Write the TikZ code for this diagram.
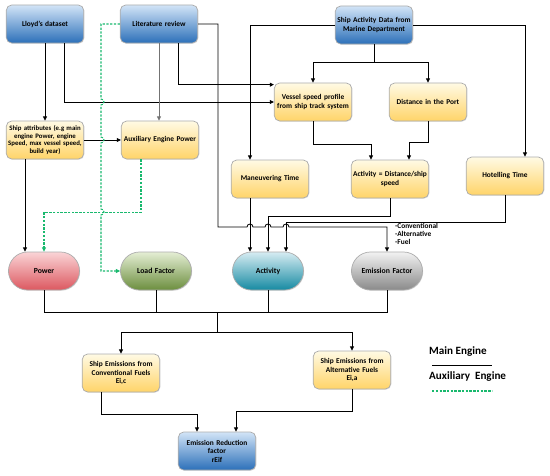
\documentclass[tikz,border=0pt]{standalone}
\usepackage{fontspec}
\setmainfont{Carlito}
\usetikzlibrary{arrows.meta,calc,shadows}
\definecolor{blueT}{RGB}{210,228,247}
\definecolor{blueB}{RGB}{44,112,185}
\definecolor{yelT}{RGB}{255,250,228}
\definecolor{yelB}{RGB}{255,212,105}
\definecolor{redT}{RGB}{250,212,214}
\definecolor{redB}{RGB}{220,88,96}
\definecolor{grnT}{RGB}{228,238,212}
\definecolor{grnB}{RGB}{108,142,62}
\definecolor{tealT}{RGB}{214,236,242}
\definecolor{tealB}{RGB}{22,138,162}
\definecolor{grayT}{RGB}{242,242,242}
\definecolor{grayB}{RGB}{138,138,138}
\definecolor{auxgreen}{RGB}{25,185,110}
\begin{document}
\begin{tikzpicture}[x=0.03cm,y=-0.03cm,
  box/.style={draw=gray!65,line width=0.6pt,rounded corners=0.16cm,minimum width=2.31cm,
    minimum height=1.14cm,inner sep=1pt,text width=2.25cm,align=center,
    font=\fontsize{6.3}{7.3}\selectfont\bfseries,
    drop shadow={opacity=0.25,shadow xshift=0.6pt,shadow yshift=-0.6pt}},
  bluebox/.style={box,top color=blueT,bottom color=blueB},
  yelbox/.style={box,top color=yelT,bottom color=yelB},
  pill/.style={box,rounded corners=0.57cm,minimum width=2.13cm,text width=1.9cm,
    font=\fontsize{6.6}{7.6}\selectfont\bfseries},
  arr/.style={line width=0.7pt,-{Triangle[length=3.6pt,width=3.4pt]}},
  ln/.style={line width=0.7pt},
  aux/.style={auxgreen,line width=0.9pt,dash pattern=on 2pt off 1.2pt}]
\useasboundingbox (0,0) rectangle (550,476);
\def\yh{227}
\def\xg{101}

\node[bluebox] (lloyd) at (45,24) {Lloyd's dataset};
\node[bluebox] (litrev) at (159,24) {Literature review};
\node[bluebox] (shipact) at (374,25) {Ship Activity Data from\\Marine Department};
\node[yelbox,font=\fontsize{5.8}{6.7}\selectfont\bfseries] (attrib) at (45,140)
  {Ship attributes (e.g main\\engine Power, engine\\Speed, max vessel speed,\\build year)};
\node[yelbox] (auxpow) at (160,140) {Auxiliary Engine Power};
\node[yelbox] (vspeed) at (313,102) {Vessel speed profile\\from ship track system};
\node[yelbox] (dist) at (428,102) {Distance in the Port};
\node[yelbox] (manoeuv) at (270,179) {Maneuvering Time};
\node[yelbox] (actcalc) at (390,179) {Activity = Distance/ship\\speed};
\node[yelbox] (hotel) at (505,176) {Hotelling Time};
\node[pill,top color=redT,bottom color=redB] (power) at (44,271) {Power};
\node[pill,top color=grnT,bottom color=grnB] (load) at (156,271) {Load Factor};
\node[pill,top color=tealT,bottom color=tealB] (activity) at (268,271) {Activity};
\node[pill,top color=grayT,bottom color=grayB] (emfac) at (387,271) {Emission Factor};
\node[yelbox] (emconv) at (121,373) {Ship Emissions from\\Conventional Fuels\\Ei,c};
\node[yelbox] (emalt) at (352,370) {Ship Emissions from\\Alternative Fuels\\Ei,a};
\node[bluebox] (erf) at (217,451) {Emission Reduction\\factor\\rEif};
\node[anchor=north west,align=left,inner sep=0,font=\fontsize{6.3}{7}\selectfont\bfseries]
  (fuels) at (395,223) {-Conventional\\-Alternative\\-Fuel};

\draw[arr] (lloyd) -- (attrib);
\draw[arr] ($(lloyd.south)+(19,0)$) |- (vspeed.west);
\draw[arr,black!55] (litrev) -- (litrev |- auxpow.north);
\draw[arr] ($(litrev.south)+(19,0)$) |- ($(vspeed.north west)+(0,2)$);
\draw[arr] (shipact.south) -- ++(0,18) coordinate (sa) -| (vspeed.north);
\draw[arr] (sa) -| (dist.north);
\draw[arr] (shipact.west) -| ($(manoeuv.north)+(-20,0)$);
\draw[arr] (shipact.east) -| ($(hotel.north)+(20,0)$);
\draw[arr] (vspeed.south) -- ++(0,23) -| ($(actcalc.north)+(-19,0)$);
\draw[arr] (dist.south) -- ++(0,21) -| ($(actcalc.north)+(19,0)$);
\draw[arr] (attrib) -- (auxpow);
\draw[arr] ($(attrib.south)+(-20,0)$) -- ($(power.north)+(-19,0)$);

\coordinate (m) at ($(manoeuv.south)+(-20,0)$);
\draw[arr] (m) -- (m |- activity.north);
\draw[arr] (actcalc.south) -- ++(0,18) -| (activity.north);
\draw[arr] (hotel.south) -- ++(0,27) -| ($(activity.north)+(18,0)$);
\draw[arr] (litrev.east) -- ++(20,0) coordinate (lr) -- (lr |- 0,\yh)
  -- (247,\yh) arc[start angle=180,end angle=0,radius=0.09cm]
  -- (265,\yh) arc[start angle=180,end angle=0,radius=0.09cm]
  -- (283,\yh) arc[start angle=180,end angle=0,radius=0.09cm]
  -| (emfac.north);

\draw[aux,-{Triangle[length=3.6pt,width=3.4pt]}] (litrev.west) -- (litrev.west -| \xg,0)
  -- (\xg,99) arc[start angle=90,end angle=-90,radius=0.09cm]
  -- (\xg,137) arc[start angle=90,end angle=-90,radius=0.09cm]
  -- (\xg,209) arc[start angle=90,end angle=-90,radius=0.09cm]
  -- (\xg,271) -- (load.west);
\draw[aux,-{Triangle[length=3.6pt,width=3.4pt]}] ($(auxpow.south)+(-19,0)$) -- ++(0,53) -| (power.north);

\draw[ln] (power.south) -- ++(0,22) -| (emfac.south);
\draw[ln] (load.south) -- ++(0,22);
\draw[ln] (activity.south) -- ++(0,22);
\coordinate (j) at (erf.north |- 0,312);
\draw[arr] (j) -- ++(0,20) coordinate (j2) -| (emconv.north);
\draw[arr] (j2) -| (emalt.north);
\draw[arr] ($(emconv.south)+(-20,0)$) -- ++(0,22) -| ($(erf.north)+(-20,0)$);
\draw[arr] (emalt.south) -- ++(0,22) -| ($(erf.north)+(19,0)$);

\node[anchor=west,inner sep=0,font=\fontsize{9.5}{11}\selectfont\bfseries] (lgmain) at (429,352) {Main Engine};
\draw[ln] (432,365) -- (492,365);
\node[anchor=west,inner sep=0,font=\fontsize{9.5}{11}\selectfont\bfseries] (lgaux) at (429,377) {Auxiliary\ \ Engine};
\draw[aux] (432,391) -- (492,391);
\end{tikzpicture}
\end{document}
